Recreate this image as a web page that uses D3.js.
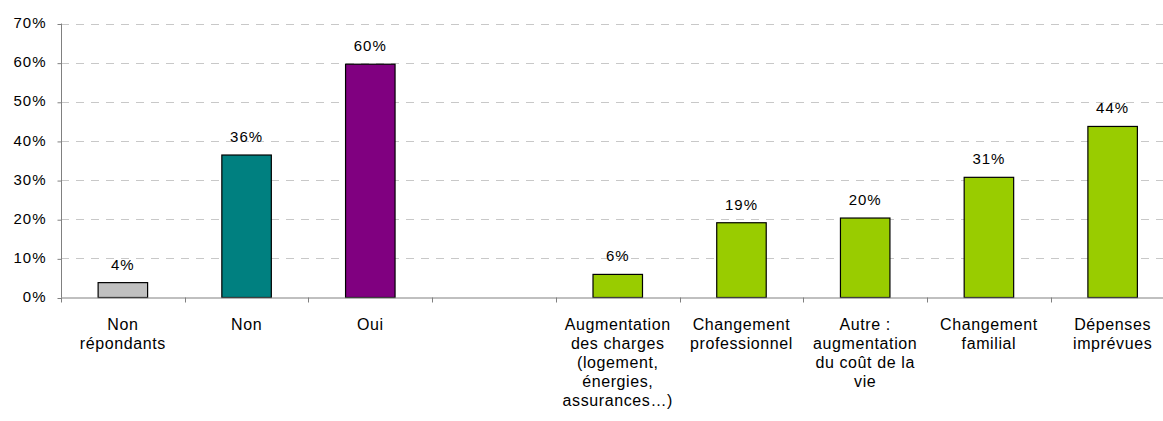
<!DOCTYPE html>
<html>
<head>
<meta charset="utf-8">
<script src="https://cdn.jsdelivr.net/npm/d3@7"></script>
<style>
  body { margin: 0; background: #fff; }
  svg { display: block; font-family: "Liberation Sans", Arial, sans-serif; }
</style>
</head>
<body>
<svg id="chart"></svg>
<script>
var width = 1163, height = 421
var margin = {top: 23.5, left: 61, bottom: 123.5}

// categories (empty slot between the two groups), one string per line
var categories = [
    "Non\nrépondants", "Non", "Oui", "",
    "Augmentation\ndes charges\n(logement,\nénergies,\nassurances…)",
    "Changement\nprofessionnel",
    "Autre :\naugmentation\ndu coût de la\nvie",
    "Changement\nfamilial",
    "Dépenses\nimprévues"]
var values = [3.8, 36.4, 59.6, null, 5.9, 19.1, 20.3, 30.7, 43.7]
var yTicks = [0, 10, 20, 30, 40, 50, 60, 70]

var barColors = ["#c0c0c0", "#008080", "#800080", "none",
    "#99cc00", "#99cc00", "#99cc00", "#99cc00", "#99cc00"]

var svg = d3.select("#chart").attr("width", width).attr("height", height)

// the plot runs a little past the right edge, as in the original picture
var x = d3.scaleBand().domain(categories.map((d, i) => i)).range([margin.left, 1174.5]).padding(0)
var y = d3.scaleLinear().domain([0, 70]).range([height - margin.bottom, margin.top])

// gridlines
svg.append("g")
    .selectAll("line")
    .data(yTicks.filter(d => d > 0))
    .enter()
    .append("line")
    .attr("x1", margin.left).attr("x2", 1174.5)
    .attr("y1", d => Math.round(y(d)) + 0.5).attr("y2", d => Math.round(y(d)) + 0.5)
    .attr("stroke", "#c8c8c8")
    .attr("stroke-dasharray", "8,7")

// y axis
var yAxis = svg.append("g")
    .attr("transform", "translate(" + (margin.left + 0.5) + ",0)")
    .call(d3.axisLeft(y).tickValues(yTicks).tickFormat(d => d + "%").tickSize(4).tickPadding(11))
yAxis.select(".domain").attr("stroke", "#808080").attr("d", "M0," + y(70) + "V" + y(0))
yAxis.selectAll(".tick line").attr("stroke", "#808080")
yAxis.selectAll(".tick line").attr("transform", "translate(0,0.5)")
yAxis.selectAll("text")
    .attr("fill", "#000")
    .style("font-size", "15px")
    .style("letter-spacing", "1px")
    .attr("font-family", null)
    .attr("dy", "0.28em")

// bars
var barW = x.bandwidth() * 0.4
svg.append("g")
    .selectAll("rect")
    .data(values.map((v, i) => ({v: v, i: i})).filter(d => d.v != null))
    .enter()
    .append("rect")
    .attr("x", d => x(d.i) + (x.bandwidth() - barW) / 2)
    .attr("y", d => y(d.v))
    .attr("width", barW)
    .attr("height", d => y(0) - y(d.v))
    .attr("fill", d => barColors[d.i])
    .attr("stroke", "#000")
    .attr("stroke-width", 1.2)

// value labels
svg.append("g")
    .selectAll("text")
    .data(values.map((v, i) => ({v: v, i: i})).filter(d => d.v != null))
    .enter()
    .append("text")
    .attr("x", d => x(d.i) + x.bandwidth() / 2)
    .attr("y", d => y(d.v) - 13)
    .attr("text-anchor", "middle")
    .style("font-size", "15px")
    .style("letter-spacing", "1px")
    .text(d => Math.round(d.v) + "%")

// x axis line and ticks at the band edges
svg.append("line")
    .attr("x1", margin.left).attr("x2", 1174.5)
    .attr("y1", y(0) + 0.5).attr("y2", y(0) + 0.5)
    .attr("stroke", "#808080")
svg.append("g")
    .selectAll("line")
    .data(d3.range(categories.length + 1))
    .enter()
    .append("line")
    .attr("x1", i => Math.round(margin.left + i * x.step()) + 0.5)
    .attr("x2", i => Math.round(margin.left + i * x.step()) + 0.5)
    .attr("y1", y(0)).attr("y2", y(0) + 5)
    .attr("stroke", "#808080")

// category labels
var catText = svg.append("g")
    .selectAll("text")
    .data(categories)
    .enter()
    .append("text")
    .attr("text-anchor", "middle")
    .attr("transform", (d, i) => "translate(" + (x(i) + x.bandwidth() / 2) + "," + 329.5 + ")")
    .style("font-size", "16px")
    .style("letter-spacing", "0.6px")
catText.selectAll("tspan")
    .data(d => d.split("\n"))
    .enter()
    .append("tspan")
    .attr("x", 0)
    .attr("y", (d, j) => j * 19.2)
    .text(d => d)
</script>
</body>
</html>
